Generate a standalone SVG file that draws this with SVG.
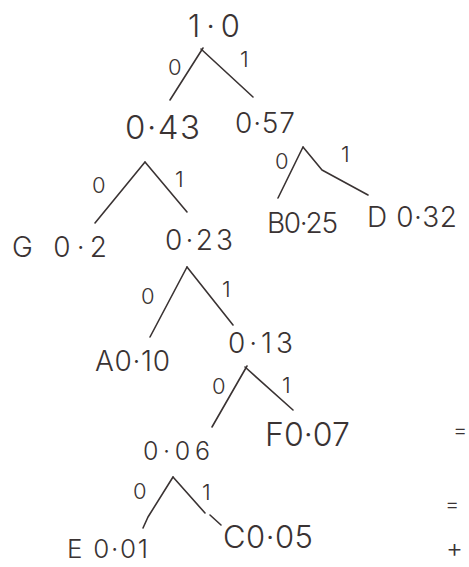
<svg xmlns="http://www.w3.org/2000/svg" width="469" height="567" viewBox="0 0 469 567">
<style>
.t{font-family:"Inter","Open Sans","Liberation Sans",sans-serif;font-weight:300;font-size:28px;fill:#3a3333;}
.e{font-family:"Inter","Open Sans","Liberation Sans",sans-serif;font-weight:300;font-size:22px;fill:#3a3333;}
.c line,.c polyline{stroke:#3a3333;stroke-width:1.6;fill:none;stroke-linecap:round;stroke-linejoin:round;}
</style>
<rect width="469" height="567" fill="#ffffff"/>
<g class="c" id="connectors">
<line x1="203" y1="48" x2="170" y2="100"/>
<line x1="201" y1="49" x2="253" y2="97"/>
<line x1="145" y1="162" x2="95" y2="223"/>
<line x1="145" y1="162" x2="187" y2="212"/>
<line x1="303" y1="147" x2="278" y2="198"/>
<polyline points="303,147 322,170 368,195"/>
<line x1="187" y1="267" x2="150" y2="337"/>
<line x1="187" y1="267" x2="233" y2="325"/>
<line x1="247" y1="366" x2="212" y2="427"/>
<line x1="245" y1="367" x2="293" y2="410"/>
<polyline points="173,477 148,517 143,528"/>
<line x1="173" y1="477" x2="205" y2="513"/>
<line x1="210" y1="515" x2="221" y2="525"/>
<text class="e" x="168" y="75">0</text>
<text class="e" x="240" y="67">1</text>
<text class="e" x="92" y="193">0</text>
<text class="e" x="175" y="187">1</text>
<text class="e" x="275" y="169">0</text>
<text class="e" x="341" y="162">1</text>
<text class="e" x="141" y="304">0</text>
<text class="e" x="222" y="297">1</text>
<text class="e" x="212" y="394">0</text>
<text class="e" x="282" y="393">1</text>
<text class="e" x="133" y="499">0</text>
<text class="e" x="202" y="500">1</text>
</g>
<g id="n-root"><text class="t" x="188" y="37" textLength="52" lengthAdjust="spacing" style="font-size:31px">1·0</text></g>
<g id="n-043"><text class="t" x="125" y="139" textLength="75" lengthAdjust="spacing" style="font-size:33px">0·43</text></g>
<g id="n-057"><text class="t" x="235" y="133" textLength="60" lengthAdjust="spacing">0·57</text></g>
<g id="n-G"><text class="t" x="12" y="257" textLength="95" lengthAdjust="spacing">G 0·2</text></g>
<g id="n-023"><text class="t" x="165" y="250" textLength="68" lengthAdjust="spacing">0·23</text></g>
<g id="n-B"><text class="t" x="267" y="233" textLength="71" lengthAdjust="spacing">B0·25</text></g>
<g id="n-D"><text class="t" x="367" y="227" textLength="90" lengthAdjust="spacing">D 0·32</text></g>
<g id="n-A"><text class="t" x="95" y="371" textLength="75" lengthAdjust="spacing">A0·10</text></g>
<g id="n-013"><text class="t" x="228" y="353" textLength="65" lengthAdjust="spacing">0·13</text></g>
<g id="n-F"><text class="t" x="265" y="446" textLength="85" lengthAdjust="spacing" style="font-size:32px">F0·07</text></g>
<g id="n-006"><text class="t" x="143" y="460" textLength="67" lengthAdjust="spacing" style="font-size:25px">0·06</text></g>
<g id="n-E"><text class="t" x="67" y="558" textLength="81" lengthAdjust="spacing" style="font-size:26px">E 0·01</text></g>
<g id="n-C"><text class="t" x="223" y="548" textLength="90" lengthAdjust="spacing" style="font-size:31px">C0·05</text></g>
<g id="edge-marks">
<text class="e" x="453" y="438">=</text>
<text class="e" x="445" y="512">=</text>
<text class="t" x="446" y="557" style="font-size:26px">+</text>
</g>
</svg>
